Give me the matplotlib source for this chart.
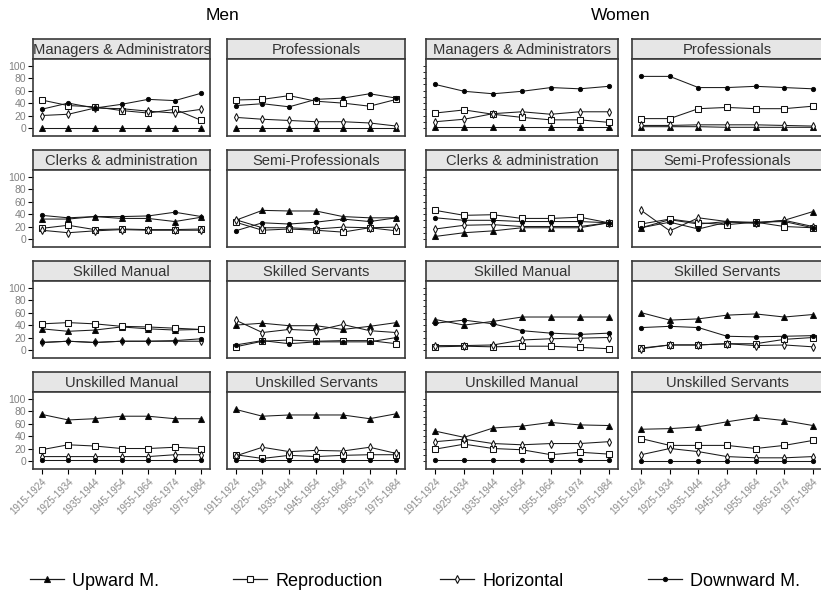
import numpy as np
import matplotlib.pyplot as plt
from matplotlib.lines import Line2D

plt.rcParams['font.family'] = ['Liberation Sans', 'DejaVu Sans']

cohorts = ['1915-1924', '1925-1934', '1935-1944', '1945-1954',
           '1955-1964', '1965-1974', '1975-1984']
series_names = ['Upward M.', 'Reproduction', 'Horizontal', 'Downward M.']
occupations = ['Managers & Administrators', 'Professionals',
               'Clerks & administration', 'Semi-Professionals',
               'Skilled Manual', 'Skilled Servants',
               'Unskilled Manual', 'Unskilled Servants']

# each panel: upward, reproduction, horizontal, downward (% by cohort)
men_managers = [[0, 0, 0, 0, 0, 0, 0],
                [45, 36, 34, 28, 24, 30, 12],
                [20, 22, 32, 31, 27, 24, 30],
                [30, 40, 32, 38, 46, 44, 56]]
men_professionals = [[0, 0, 0, 0, 0, 0, 0],
                     [45, 46, 52, 43, 40, 35, 46],
                     [17, 14, 12, 10, 10, 8, 3],
                     [36, 39, 34, 46, 48, 55, 48]]
men_clerks = [[32, 32, 36, 33, 33, 28, 35],
              [17, 22, 15, 16, 15, 15, 16],
              [14, 10, 13, 15, 14, 14, 14],
              [38, 34, 36, 36, 37, 43, 36]]
men_semiprof = [[30, 46, 45, 45, 36, 34, 34],
                [27, 14, 16, 14, 11, 18, 13],
                [31, 18, 18, 16, 19, 18, 19],
                [13, 26, 24, 27, 32, 28, 34]]
men_skilled_manual = [[34, 30, 32, 37, 34, 32, 33],
                      [42, 44, 42, 38, 37, 35, 33],
                      [12, 14, 12, 14, 14, 14, 14],
                      [12, 14, 12, 14, 14, 15, 18]]
men_skilled_servants = [[40, 43, 39, 39, 33, 38, 44],
                        [5, 14, 16, 14, 15, 15, 10],
                        [48, 28, 33, 31, 41, 31, 28],
                        [8, 15, 10, 13, 13, 13, 20]]
men_unskilled_manual = [[75, 66, 68, 72, 72, 68, 68],
                        [18, 26, 24, 20, 20, 22, 20],
                        [7, 7, 7, 7, 7, 10, 10],
                        [1, 1, 1, 1, 1, 1, 1]]
men_unskilled_servants = [[83, 72, 74, 74, 74, 68, 76],
                          [10, 4, 9, 7, 9, 10, 10],
                          [8, 22, 15, 17, 16, 22, 12],
                          [1, 1, 1, 1, 1, 1, 1]]

women_managers = [[1, 1, 1, 1, 1, 1, 1],
                  [24, 29, 22, 17, 13, 13, 9],
                  [10, 14, 23, 26, 22, 26, 26],
                  [70, 59, 55, 59, 65, 63, 67]]
women_professionals = [[2, 2, 2, 1, 1, 1, 1],
                       [15, 15, 31, 33, 31, 31, 35],
                       [4, 4, 5, 5, 5, 4, 3],
                       [83, 83, 65, 65, 67, 65, 63]]
women_clerks = [[4, 10, 13, 18, 18, 18, 26],
                [46, 38, 39, 33, 33, 35, 26],
                [16, 22, 23, 20, 20, 20, 26],
                [34, 30, 30, 28, 28, 28, 26]]
women_semiprof = [[18, 31, 24, 28, 25, 30, 44],
                  [24, 32, 26, 23, 27, 20, 18],
                  [46, 13, 34, 28, 26, 30, 20],
                  [18, 27, 16, 27, 27, 28, 18]]
women_skilled_manual = [[49, 40, 46, 53, 53, 53, 53],
                        [5, 6, 5, 6, 6, 4, 2],
                        [7, 7, 8, 16, 18, 19, 20],
                        [43, 48, 42, 31, 27, 25, 27]]
women_skilled_servants = [[60, 48, 50, 56, 58, 53, 57],
                          [3, 8, 8, 10, 10, 17, 20],
                          [2, 8, 8, 10, 7, 8, 5],
                          [36, 38, 36, 22, 21, 22, 23]]
women_unskilled_manual = [[48, 38, 53, 56, 62, 58, 57],
                          [19, 27, 20, 18, 10, 14, 11],
                          [31, 35, 28, 26, 28, 28, 31],
                          [1, 1, 1, 1, 1, 1, 1]]
women_unskilled_servants = [[51, 52, 55, 63, 70, 65, 57],
                            [36, 25, 25, 25, 20, 25, 33],
                            [10, 20, 15, 7, 5, 5, 7],
                            [0, 0, 0, 0, 0, 0, 0]]

men = [men_managers, men_professionals, men_clerks, men_semiprof,
       men_skilled_manual, men_skilled_servants,
       men_unskilled_manual, men_unskilled_servants]
women = [women_managers, women_professionals, women_clerks, women_semiprof,
         women_skilled_manual, women_skilled_servants,
         women_unskilled_manual, women_unskilled_servants]

styles = [dict(marker='^', mfc='black', ms=4.6),
          dict(marker='s', mfc='white', ms=4),
          dict(marker='d', mfc='white', ms=4.2),
          dict(marker='o', mfc='black', ms=3)]

W, H = 821, 591
fig = plt.figure(figsize=(W / 100, H / 100), dpi=100)

# panel geometry in pixels
col_x = [(33, 210), (227, 405), (426, 618), (632, 822)]
row_top = [39, 150, 261, 372]
strip_h = 20
plot_h = 77
x = np.arange(len(cohorts))

def px_axes(x0, x1, top, h):
    return fig.add_axes([x0 / W, 1 - (top + h) / H, (x1 - x0) / W, h / H])

for s, panels in enumerate([men, women]):
    for k, data in enumerate(panels):
        row, col = k // 2, s * 2 + k % 2
        x0, x1 = col_x[col]
        top = row_top[row]

        strip = px_axes(x0, x1, top, strip_h)
        strip.set_facecolor('#e6e6e6')
        strip.set_xticks([])
        strip.set_yticks([])
        for sp in strip.spines.values():
            sp.set_color('#3a3a3a')
            sp.set_linewidth(1.2)
        strip.text(0.5, 0.45, occupations[k], ha='center', va='center',
                   fontsize=10.6, color='#333333', transform=strip.transAxes,
                   clip_on=True)

        ax = px_axes(x0, x1, top + strip_h, plot_h)
        for vals, st in zip(data, styles):
            ax.plot(x, vals, color='#1a1a1a', lw=0.75, mec='#111111',
                    mew=0.75, **st)
        ax.set_xlim(-0.32, 6.32)
        ax.set_ylim(-13, 111)
        for sp in ax.spines.values():
            sp.set_color('#3a3a3a')
            sp.set_linewidth(1.2)

        if col == 0:
            ax.set_yticks(np.arange(0, 101, 20))
            ax.tick_params(axis='y', length=3.5, width=0.8, labelsize=7.5,
                           labelcolor='#808080', pad=1.5)
        elif col == 2:
            ax.set_yticks(np.arange(0, 101, 10))
            ax.set_yticklabels([])
            ax.tick_params(axis='y', length=2.5, width=0.6)
        else:
            ax.set_yticks([])

        if row == 3:
            ax.set_xticks(x)
            ax.set_xticklabels(cohorts, rotation=45, ha='right',
                               rotation_mode='anchor', fontsize=7,
                               color='#8a8a8a')
            ax.tick_params(axis='x', length=3.5, width=0.8, pad=2)
        else:
            ax.set_xticks([])

fig.text(222 / W, 1 - 16 / H, 'Men', ha='center', va='center', fontsize=12.5)
fig.text(621 / W, 1 - 16 / H, 'Women', ha='center', va='center', fontsize=12.5)

# legend entries laid out along the bottom
legend_x = [30, 233, 440, 648]
for name, st, lx in zip(series_names, styles, legend_x):
    h = Line2D([], [], color='#1a1a1a', lw=0.9, mec='#111111', mew=0.8, **st)
    fig.legend(handles=[h], labels=[name], loc='center left',
               bbox_to_anchor=(lx / W, 1 - 581 / H), frameon=False,
               fontsize=13, handlelength=1.9, handletextpad=0.45,
               borderpad=0, borderaxespad=0)

fig.savefig('out.png', dpi=100)
